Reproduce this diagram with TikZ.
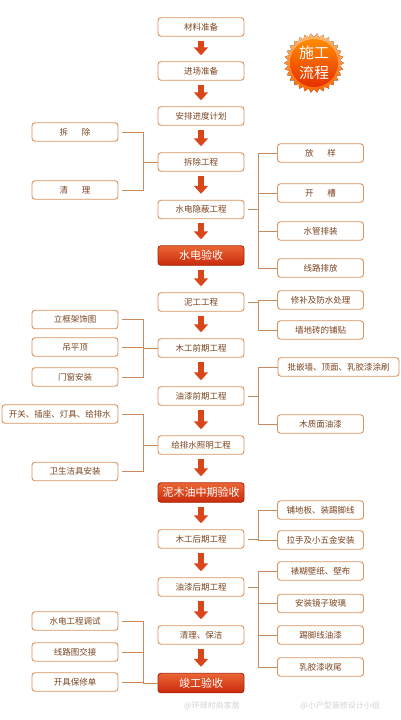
\documentclass[tikz,border=0pt]{standalone}
\usepackage{fontspec}
\setmainfont{Noto Sans CJK SC}
\usetikzlibrary{arrows.meta}
\definecolor{boxline}{HTML}{D8935E}
\definecolor{boxtext}{HTML}{7B4420}
\definecolor{linkc}{HTML}{C98A5E}
\definecolor{redtop}{HTML}{EC6634}
\definecolor{redbot}{HTML}{C92A0C}
\definecolor{arrowc}{HTML}{D9461A}
\definecolor{marktext}{HTML}{D2D2D2}
\tikzset{
  stepbox/.style={draw=boxline, line width=0.9pt, rounded corners=3pt, fill=white,
    minimum width=86pt, minimum height=18.5pt, inner sep=0pt, text=boxtext,
    font=\fontsize{8.5}{10}\selectfont},
  widebox/.style={stepbox, minimum width=#1},
  checkbox/.style={stepbox, draw=redbot!85!black, top color=redtop, bottom color=redbot,
    text=white, minimum height=19.5pt, font=\fontsize{11}{12}\selectfont},
  link/.style={draw=linkc, line width=0.8pt},
  flow/.style={draw=arrowc, line width=6.5pt, -{Triangle[width=14pt,length=8pt]},
    shorten <=4pt, shorten >=6pt}
}
\begin{document}
\begin{tikzpicture}[x=1pt, y=-1pt]
\useasboundingbox[fill=white] (0,0) rectangle (400,720);
% main column
\node[stepbox] (cailiao) at (201,27){材料准备};
\node[stepbox] (jinchang) at (201,71){进场准备};
\node[stepbox] (anpai) at (201,116){安排进度计划};
\node[stepbox] (chaichu) at (201,162){拆除工程};
\node[stepbox] (yinbi) at (201,209.5){水电隐蔽工程};
\node[checkbox] (sdys) at (201,255.5){水电验收};
\node[stepbox] (nigong) at (201,302){泥工工程};
\node[stepbox] (muqian) at (201,348){木工前期工程};
\node[stepbox] (youqian) at (201,396){油漆前期工程};
\node[stepbox] (geipai) at (201,445){给排水照明工程};
\node[checkbox] (zhongqi) at (201,492.5){泥木油中期验收};
\node[stepbox] (muhou) at (201,539){木工后期工程};
\node[stepbox] (youhou) at (201,587){油漆后期工程};
\node[stepbox] (baojie) at (201,635){清理、保洁};
\node[checkbox] (jungong) at (201,683){竣工验收};
\draw[flow] (cailiao.south) -- (jinchang.north);
\draw[flow] (jinchang.south) -- (anpai.north);
\draw[flow] (anpai.south) -- (chaichu.north);
\draw[flow] (chaichu.south) -- (yinbi.north);
\draw[flow] (yinbi.south) -- (sdys.north);
\draw[flow] (sdys.south) -- (nigong.north);
\draw[flow] (nigong.south) -- (muqian.north);
\draw[flow] (muqian.south) -- (youqian.north);
\draw[flow] (youqian.south) -- (geipai.north);
\draw[flow] (geipai.south) -- (zhongqi.north);
\draw[flow] (zhongqi.south) -- (muhou.north);
\draw[flow] (muhou.south) -- (youhou.north);
\draw[flow] (youhou.south) -- (baojie.north);
\draw[flow] (baojie.south) -- (jungong.north);
% left side
\node[stepbox] (chai) at (75,132){拆\hspace{1.6em}除};
\node[stepbox] (qing) at (75,190){清\hspace{1.6em}理};
\node[stepbox] (likuang) at (75,319.5){立框架饰图};
\node[stepbox] (diao) at (75,347){吊平顶};
\node[stepbox] (menchuang) at (75,377){门窗安装};
\node[widebox=116pt] (kaiguan) at (60,414){开关、插座、灯具、给排水};
\node[stepbox] (weisheng) at (75,471.5){卫生洁具安装};
\node[stepbox] (tiaoshi) at (75,621){水电工程调试};
\node[stepbox] (jiaojie) at (75,652){线路图交接};
\node[stepbox] (baoxiu) at (75,682){开具保修单};
\foreach \a/\b in {chai/chaichu, qing/chaichu, likuang/muqian, diao/muqian,
    menchuang/muqian, kaiguan/geipai, weisheng/geipai, tiaoshi/jungong,
    jiaojie/jungong, baoxiu/jungong}
  \draw[link] ([xshift=4pt]\a.east) -| ([xshift=-14pt]\b.west) -- (\b.west);
% right side
\node[stepbox] (fangyang) at (320.5,153){放\hspace{1.6em}样};
\node[stepbox] (kaicao) at (320.5,193){开\hspace{1.6em}槽};
\node[stepbox] (shuiguan) at (320.5,231){水管排装};
\node[stepbox] (paifang) at (320.5,268){线路排放};
\node[stepbox] (xiubu) at (320.5,300){修补及防水处理};
\node[stepbox] (qiangzhuan) at (320.5,330){墙地砖的铺贴};
\node[widebox=121pt] (pijian) at (338.5,367){批嵌墙、顶面、乳胶漆涂刷};
\node[stepbox] (muzhi) at (320.5,424){木质面油漆};
\node[stepbox] (pudi) at (320.5,510){铺地板、装踢脚线};
\node[stepbox] (lashou) at (320.5,540){拉手及小五金安装};
\node[stepbox] (biaohu) at (320.5,571){裱糊壁纸、壁布};
\node[stepbox] (jingzi) at (320.5,603.5){安装镜子玻璃};
\node[stepbox] (tijiao) at (320.5,635){踢脚线油漆};
\node[stepbox] (shouwei) at (320.5,667){乳胶漆收尾};
\foreach \a/\b in {yinbi/fangyang, yinbi/kaicao, yinbi/shuiguan, yinbi/paifang,
    nigong/xiubu, nigong/qiangzhuan, youqian/pijian, youqian/muzhi,
    muhou/pudi, muhou/lashou, youhou/biaohu, youhou/jingzi,
    youhou/tijiao, youhou/shouwei}
  \draw[link] ([xshift=4pt]\a.east) -| ([xshift=-19pt]\b.west) -- (\b.west);
% badge
\coordinate (badgec) at (314,63);
\fill[shift={(badgec)}, top color=orange!55!white, bottom color=orange!80!red]
  plot[domain=0:354, samples=60] (\x:{27.8+2*cos(30*\x)}) -- cycle;
\shade[top color=orange!90!yellow, bottom color=red!60!orange!90!black] (badgec) circle (24);
\node[text=white, align=center, font=\fontsize{15}{20}\selectfont] (badge) at (badgec){施工\\流程};
% marks
\node[text=marktext, font=\fontsize{8}{9}\selectfont] (mark1) at (212,706){@环球时尚家居};
\node[text=marktext, font=\fontsize{8}{9}\selectfont] (mark2) at (340,706){@小户型装修设计小组};
\end{tikzpicture}
\end{document}
